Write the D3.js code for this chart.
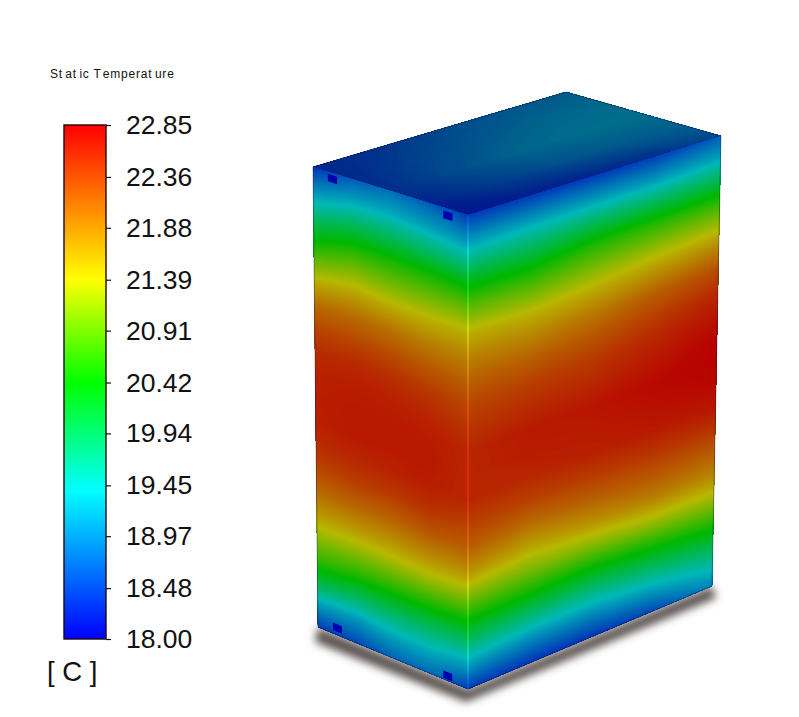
<!DOCTYPE html>
<html>
<head>
<meta charset="utf-8">
<style>
  body { margin: 0; background: #fff; }
  text { font-family: "Liberation Sans", Arial, sans-serif; fill: #111; }
</style>
<script src="https://cdn.jsdelivr.net/npm/d3@7"></script>
</head>
<body>
<div id="chart"></div>
<script>
// colour bar
const legendTicks = [18.00, 18.48, 18.97, 19.45, 19.94, 20.42, 20.91, 21.39, 21.88, 22.36, 22.85];
const rainbowTemps = [18.0, 19.4, 20.42, 21.39, 22.85];
const rainbowColors = ['#0000ff', '#00ffff', '#00ff00', '#ffff00', '#ff0000'];

const leftFaceTemps = [
  [18.40, 18.70, 18.85, 18.70, 18.45],
  [19.06, 19.30, 19.32, 19.20, 19.06],
  [19.70, 19.95, 19.94, 19.82, 19.70],
  [20.31, 20.57, 20.55, 20.50, 20.39],
  [20.90, 21.11, 21.03, 21.00, 20.97],
  [21.50, 21.60, 21.51, 21.47, 21.48],
  [22.00, 22.02, 21.96, 21.85, 21.82],
  [22.30, 22.30, 22.25, 22.15, 22.08],
  [22.50, 22.53, 22.48, 22.40, 22.30],
  [22.60, 22.62, 22.60, 22.54, 22.43],
  [22.62, 22.65, 22.65, 22.63, 22.55],
  [22.60, 22.65, 22.65, 22.66, 22.55],
  [22.50, 22.55, 22.58, 22.62, 22.55],
  [22.30, 22.38, 22.39, 22.46, 22.36],
  [22.05, 22.08, 22.08, 22.18, 22.12],
  [21.68, 21.68, 21.70, 21.76, 21.75],
  [21.22, 21.19, 21.22, 21.26, 21.19],
  [20.74, 20.63, 20.60, 20.60, 20.54],
  [20.10, 19.91, 19.94, 19.94, 19.87],
  [19.20, 19.14, 19.30, 19.34, 19.18],
  [18.45, 18.55, 18.75, 18.80, 18.45]
];
const rightFaceTemps = [
  [18.45, 18.45, 18.45, 18.50, 18.70],
  [19.09, 19.15, 19.15, 19.16, 19.28],
  [19.74, 19.78, 19.90, 19.93, 20.00],
  [20.39, 20.37, 20.58, 20.65, 20.70],
  [20.97, 20.91, 21.07, 21.19, 21.28],
  [21.48, 21.42, 21.52, 21.66, 21.83],
  [21.82, 21.78, 21.90, 22.10, 22.26],
  [22.08, 22.10, 22.18, 22.35, 22.54],
  [22.30, 22.35, 22.40, 22.55, 22.70],
  [22.43, 22.50, 22.54, 22.67, 22.83],
  [22.55, 22.65, 22.68, 22.78, 22.83],
  [22.55, 22.63, 22.64, 22.72, 22.80],
  [22.55, 22.54, 22.60, 22.65, 22.68],
  [22.36, 22.34, 22.38, 22.43, 22.43],
  [22.12, 22.00, 22.10, 22.17, 22.13],
  [21.73, 21.57, 21.70, 21.85, 21.80],
  [21.14, 21.07, 21.13, 21.28, 21.31],
  [20.50, 20.48, 20.42, 20.59, 20.72],
  [19.86, 19.76, 19.74, 19.92, 20.14],
  [19.18, 19.06, 19.07, 19.25, 19.56],
  [18.45, 18.40, 18.40, 18.55, 19.00]
];
const topFaceTemps = [
  [18.40, 18.50, 18.70, 18.85, 18.90],
  [18.40, 18.65, 18.85, 19.00, 19.05],
  [18.45, 18.75, 19.00, 19.10, 19.10],
  [18.35, 18.60, 18.80, 18.90, 18.95],
  [18.20, 18.30, 18.35, 18.45, 18.70]
];

// small dark patches on the left face, [across, down]
const ventSpots = [[0.125, 0.013], [0.87, 0.015], [0.13, 0.985], [0.865, 0.99]];

const width = 799, height = 717;

const svg = d3.select('#chart').append('svg')
  .attr('width', width)
  .attr('height', height)
  .style('display', 'block');
const defs = svg.append('defs');

const tempColor = d3.scaleLinear().domain(rainbowTemps).range(rainbowColors).clamp(true);

// faces are lit, so the rainbow comes out darker than on the colour bar
function shaded(t, light) {
  const c = d3.rgb(tempColor(t));
  return d3.rgb(c.r * light, c.g * light, c.b * light).formatRgb();
}

// box corners on screen
const corners = {
  left: [313, 167], back: [566, 92], right: [721, 136], front: [468, 215],
  leftLow: [318, 627], frontLow: [468, 689], rightLow: [712, 586]
};

function makeFace(tl, tr, br, bl) {
  const leftEdge = d3.scaleLinear().domain([0, 1]).range([tl, bl]);
  const rightEdge = d3.scaleLinear().domain([0, 1]).range([tr, br]);
  return {
    outline: [tl, tr, br, bl],
    project: (u, v) => d3.interpolate(leftEdge(v), rightEdge(v))(u)
  };
}

const leftFace = makeFace(corners.left, corners.front, corners.frontLow, corners.leftLow);
const rightFace = makeFace(corners.front, corners.right, corners.rightLow, corners.frontLow);
const topFace = makeFace(corners.left, corners.back, corners.right, corners.front);

// shadow under the box
defs.append('filter').attr('id', 'shadowBlur')
  .attr('x', '-10%').attr('y', '-30%').attr('width', '120%').attr('height', '160%')
  .append('feGaussianBlur').attr('stdDeviation', 4);

defs.append('filter').attr('id', 'ventBlur')
  .append('feGaussianBlur').attr('stdDeviation', 0.6);

svg.append('polygon')
  .attr('points', [
    corners.leftLow, corners.frontLow, corners.rightLow,
    [corners.rightLow[0] + 4, corners.rightLow[1] + 12],
    [corners.frontLow[0] - 2, corners.frontLow[1] + 13],
    [corners.leftLow[0] - 3, corners.leftLow[1] + 15]
  ].join(' '))
  .attr('fill', '#5a5250')
  .attr('filter', 'url(#shadowBlur)');

// draw one face as filled temperature contours
function drawFace(face, temps, light, id) {
  const ny = temps.length, nx = temps[0].length;
  const uScale = d3.scaleLinear().domain([0.5, nx - 0.5]).range([0, 1]);
  const vScale = d3.scaleLinear().domain([0.5, ny - 0.5]).range([0, 1]);

  const step = 0.02;
  const levels = d3.range(18, 22.86, step);
  const bands = d3.contours().size([nx, ny]).thresholds(levels)(temps.flat());

  const path = d3.geoPath(d3.geoTransform({
    point(x, y) {
      const p = face.project(uScale(x), vScale(y));
      this.stream.point(p[0], p[1]);
    }
  }));

  defs.append('clipPath').attr('id', id)
    .append('polygon').attr('points', face.outline.join(' '));

  const g = svg.append('g').attr('clip-path', `url(#${id})`);
  g.append('polygon')
    .attr('points', face.outline.join(' '))
    .attr('fill', shaded(d3.min(temps.flat()), light));
  g.selectAll('path')
    .data(bands.filter(d => d.coordinates.length > 0))
    .join('path')
    .attr('d', path)
    .attr('fill', d => shaded(d.value + step / 2, light));
}

drawFace(topFace, topFaceTemps, 0.55, 'clipTop');
drawFace(leftFace, leftFaceTemps, 0.72, 'clipLeft');
drawFace(rightFace, rightFaceTemps, 0.72, 'clipRight');

// vents on the left face
svg.append('g').selectAll('polygon')
  .data(ventSpots)
  .join('polygon')
  .attr('points', d => [
    leftFace.project(d[0] - 0.03, d[1] - 0.008),
    leftFace.project(d[0] + 0.03, d[1] - 0.008),
    leftFace.project(d[0] + 0.03, d[1] + 0.008),
    leftFace.project(d[0] - 0.03, d[1] + 0.008)
  ].join(' '))
  .attr('fill', '#0000b0')
  .attr('filter', 'url(#ventBlur)');

// thin dark silhouette
svg.append('polygon')
  .attr('points', [corners.left, corners.back, corners.right, corners.rightLow, corners.frontLow, corners.leftLow].join(' '))
  .attr('fill', 'none')
  .attr('stroke', '#082038')
  .attr('stroke-opacity', 0.4)
  .attr('stroke-width', 1);

// the front edge catches more light
const edgeTemps = rightFaceTemps.map(r => r[0]);
const edgeScale = d3.scaleLinear().domain(d3.range(edgeTemps.length).map(i => i / (edgeTemps.length - 1))).range(edgeTemps);
const edgeGrad = defs.append('linearGradient').attr('id', 'edgeGrad')
  .attr('gradientUnits', 'userSpaceOnUse')
  .attr('x1', 0).attr('x2', 0)
  .attr('y1', corners.front[1]).attr('y2', corners.frontLow[1]);
edgeGrad.selectAll('stop')
  .data(d3.range(0, 1.001, 0.01))
  .join('stop')
  .attr('offset', d => d)
  .attr('stop-color', d => shaded(edgeScale(d), 0.92));

svg.append('line')
  .attr('x1', corners.front[0]).attr('x2', corners.frontLow[0])
  .attr('y1', corners.front[1]).attr('y2', corners.frontLow[1] - 0.01)
  .attr('stroke', 'url(#edgeGrad)')
  .attr('stroke-width', 2)
  .attr('stroke-opacity', 0.7);

// colour bar with its axis
const barX = 64, barW = 42;
const barScale = d3.scaleLinear().domain([18, 22.85]).range([639, 125]);

const barGrad = defs.append('linearGradient').attr('id', 'barGrad')
  .attr('x1', 0).attr('x2', 0).attr('y1', 1).attr('y2', 0);
barGrad.selectAll('stop')
  .data(rainbowTemps)
  .join('stop')
  .attr('offset', d => (d - 18) / (22.85 - 18))
  .attr('stop-color', d => tempColor(d));

svg.append('rect')
  .attr('x', barX)
  .attr('y', barScale(22.85))
  .attr('width', barW)
  .attr('height', barScale(18) - barScale(22.85))
  .attr('fill', 'url(#barGrad)')
  .attr('stroke', '#200808')
  .attr('stroke-width', 1.4);

const barAxis = d3.axisRight(barScale)
  .tickValues(legendTicks)
  .tickFormat(d3.format('.2f'))
  .tickSize(5)
  .tickPadding(15);

const axisG = svg.append('g')
  .attr('transform', `translate(${barX + barW},0)`)
  .call(barAxis);
axisG.select('.domain').remove();
axisG.selectAll('line').attr('stroke', '#111').attr('stroke-width', 1.2);
axisG.selectAll('text').style('font-size', '26.5px').style('font-family', '"Liberation Sans", Arial, sans-serif').attr('fill', '#111');

// title, with the uneven gaps of the original
svg.append('text')
  .attr('x', 50)
  .attr('y', 78)
  .attr('font-size', 12)
  .attr('dx', '0 .8 3.2 .8 3.2 .8 .8 .8 3.2 .8 .8 .8 .8 .8 .8 3.2 .8 .8')
  .text('Static Temperature');

svg.append('text')
  .attr('x', 47)
  .attr('y', 681)
  .attr('font-size', 27.5)
  .attr('xml:space', 'preserve')
  .text('[ C ]');
</script>
</body>
</html>
